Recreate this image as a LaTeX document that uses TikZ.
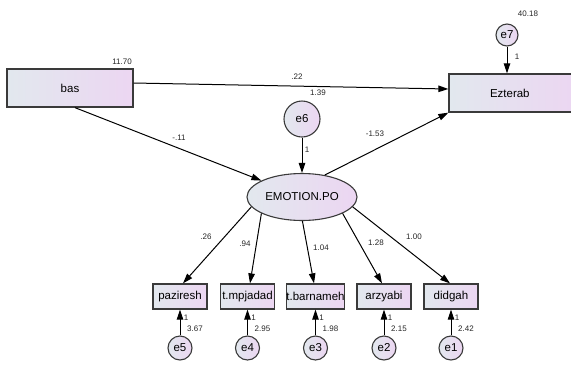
\documentclass[tikz,border=0pt]{standalone}
\usepackage{fontspec}
\setmainfont{Liberation Sans}
\usetikzlibrary{arrows.meta,shapes.geometric}
\definecolor{gL}{HTML}{E2E8EE}
\definecolor{gR}{HTML}{ECD6F2}
\definecolor{bd}{HTML}{3A3A3A}
\tikzset{
  obsbox/.style={draw=bd,line width=1.3pt,left color=gL,right color=gR,rectangle,inner sep=0pt,font=\fontsize{11.5}{12}\selectfont},
  errc/.style={draw=bd,line width=1.1pt,left color=gL,right color=gR,circle,inner sep=0pt,font=\fontsize{11.5}{12}\selectfont},
  lat/.style={draw=bd,line width=1.1pt,left color=gL,right color=gR,ellipse,inner sep=0pt,minimum width=110pt,minimum height=47pt,font=\fontsize{11.5}{12}\selectfont},
  conn/.style={line width=1pt,-{Triangle[length=10pt,width=6.5pt]}},
  lbl/.style={font=\fontsize{8}{9}\selectfont,inner sep=0pt,text=black!85}
}
\begin{document}
\begin{tikzpicture}[x=1pt,y=-1pt]
\useasboundingbox (0,0) rectangle (571,376);
\clip (0,0) rectangle (571,376);
% nodes
\node[obsbox,minimum width=126pt,minimum height=38pt] (bas) at (70,88) {bas};
\node[obsbox,minimum width=128pt,minimum height=38pt,text width=126pt,align=left] (ezt) at (513,93) {\hspace{40pt}Ezterab};
\node[errc,minimum size=22pt] (e7) at (507,35) {e7};
\node[errc,minimum size=36pt] (e6) at (302,119) {e6};
\node[lat] (emo) at (302,197) {EMOTION.PO};
\foreach \n/\t/\x/\e in {p/paziresh/180/e5, m/t.mpjadad/247.5/e4, b/t.barnameh/315.5/e3, a/arzyabi/384/e2, d/didgah/451/e1}{
  \node[obsbox,minimum width=54pt,minimum height=25pt] (\n) at (\x,296.5) {\t};
  \node[errc,minimum size=24pt] (\e) at (\x,348) {\e};
}
% connectors
\draw[conn] ([yshift=5pt]bas.east) -- ([yshift=4pt]ezt.west);
\draw[conn] ([xshift=5pt]bas.south) -- (emo.158);
\draw[conn] (emo.44) -- (ezt.south west);
\draw[conn] (e7) -- (ezt.north -| e7);
\draw[conn] (e6) -- (emo);
\foreach \n/\e/\a/\dx in {p/e5/191/3, m/e4/202/2.5, b/e3/271/-1.5, a/e2/338/-2, d/e1/349/-1}{
  \draw[conn] (emo.\a) -- ([xshift=\dx pt]\n.north);
  \draw[conn] (\e) -- (\n);
}
% labels
\node[lbl] (l1) at (122,62) {11.70};
\node[lbl] (l2) at (297,77) {.22};
\node[lbl] (l3) at (318,93) {1.39};
\node[lbl] (l4) at (179,138) {-.11};
\node[lbl] (l5) at (375,134) {-1.53};
\node[lbl] (l6) at (528,14) {40.18};
\node[lbl] (l7) at (517,57) {1};
\node[lbl] (l8) at (307,150) {1};
\node[lbl] (l9) at (206,237) {.26};
\node[lbl] (l10) at (245,244) {.94};
\node[lbl] (l11) at (321,248) {1.04};
\node[lbl] (l12) at (376,243) {1.28};
\node[lbl] (l13) at (414,237) {1.00};
\foreach \x/\v in {180/3.67, 247.5/2.95, 315.5/1.98, 384/2.15, 451/2.42}{
  \node[lbl] at (\x+6,318) {1};
  \node[lbl] at (\x+15,329) {\v};
}
\end{tikzpicture}
\end{document}
